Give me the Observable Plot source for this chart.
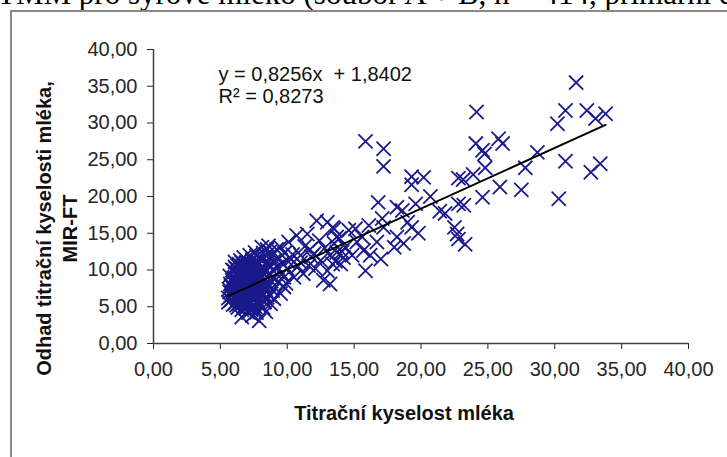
<!DOCTYPE html>
<html><head><meta charset="utf-8">
<script src="https://cdn.jsdelivr.net/npm/d3@7"></script>
<script src="https://cdn.jsdelivr.net/npm/@observablehq/plot@0.6"></script>
<style>
html,body{margin:0;padding:0;background:#fff;}
body{width:727px;height:457px;overflow:hidden;position:relative;font-family:"Liberation Sans",Arial,sans-serif;}
#title{position:absolute;left:-3px;top:-24px;font-family:"Liberation Serif","Times New Roman",serif;font-size:31px;white-space:nowrap;color:#000;}
#box{position:absolute;left:10px;top:10px;width:800px;height:600px;border:2px solid #8a8a8a;box-sizing:border-box;}
#chart{position:absolute;left:0;top:0;}
</style></head><body>
<div id="title">TMM pro syrové mléko (soubor A + B, n = 414, primární data)</div>
<div id="box"></div>
<div id="chart"></div>
<script>
// axis ticks
const xTicks = [0, 5, 10, 15, 20, 25, 30, 35, 40];
const yTicks = [0, 5, 10, 15, 20, 25, 30, 35, 40];

// dense cluster
const clusterX = [5.6,5.7,5.8,5.9,5.7,6.0,5.9,5.6,5.8,6.0,
  6.0,6.1,6.1,6.1,5.9,6.2,6.3,6.3,6.2,6.4,
  6.3,6.2,6.4,6.3,6.5,6.4,6.5,6.3,6.5,6.4,
  6.2,6.5,6.4,6.6,6.6,6.7,6.6,6.8,6.7,6.9,
  6.6,6.8,6.7,6.9,6.75,6.8,7.0,7.0,6.9,7.0,
  6.6,6.9,6.7,7.0,6.8,6.9,7.1,7.2,7.1,7.3,
  7.2,7.4,7.1,7.3,7.2,7.4,7.3,7.1,7.4,7.5,
  7.5,7.4,7.5,7.2,7.4,7.3,7.5,7.1,7.2,7.6,
  7.7,7.9,7.6,7.8,7.7,7.9,7.6,7.8,7.7,7.9,
  7.6,7.8,8.0,7.7,8.0,8.0,7.9,7.6,7.8,8.1,
  8.2,8.3,8.1,8.4,8.2,8.3,8.1,8.4,8.2,8.5,
  8.3,8.4,8.5,8.5,8.2,8.5,8.6,8.75,8.7,8.9,
  8.6,8.8,8.7,8.9,8.6,9.0,8.8,9.0,8.7,9.0];
const clusterY = [6.2,7.0,7.8,8.6,9.2,9.9,6.8,5.6,5.9,7.4,
  8.2,9.0,10.4,11.1,10.0,5.2,4.9,6.0,6.6,7.2,
  7.9,8.5,9.1,9.6,10.2,10.8,11.3,6.4,5.7,8.0,
  9.3,7.5,5.4,3.6,4.6,5.5,6.2,6.8,7.3,7.9,
  8.4,9.0,9.6,10.1,11.7,10.7,5.0,4.3,6.0,8.6,
  9.9,11.0,8.0,7.1,6.4,9.4,4.2,5.3,5.9,6.5,
  7.0,7.6,8.2,8.8,9.3,9.9,10.5,11.0,3.8,4.8,
  6.1,8.5,9.0,10.0,11.4,5.6,7.3,6.6,12.0,12.4,
  4.2,3.1,5.0,5.8,6.5,7.1,7.8,8.4,9.0,9.6,
  10.3,10.9,11.5,11.9,6.2,8.0,5.2,8.8,7.4,13.1,
  4.9,5.6,6.7,7.3,7.9,8.6,9.2,9.8,10.4,11.0,
  11.6,4.3,6.3,8.2,12.3,12.8,13.3,5.4,6.5,7.2,
  7.9,8.5,9.3,10.0,10.6,11.2,11.9,9.0,12.5,6.1];

// cluster core (extra readings)
const coreX = [5.8,6.0,6.2,6.1,6.3,6.5,6.4,6.6,6.7,6.9,
  7.0,7.1,7.3,7.2,7.4,7.6,7.5,7.7,7.9,8.0,
  6.05,6.25,6.45,6.65,6.85,7.05,7.25,7.45,7.65,7.85,
  6.15,6.35,6.55,6.75,6.95,7.15,7.35,7.55,7.75,7.95,
  5.75,5.95,6.6,6.9,7.3,7.7,8.1,8.3,5.65,8.4];
const coreY = [6.5,8.9,7.7,5.5,10.6,8.8,6.9,10.5,5.9,8.2,
  9.7,7.8,9.6,6.3,10.8,6.9,5.3,8.1,10.1,9.3,
  7.1,9.5,6.1,7.6,10.4,6.7,8.5,5.1,9.4,6.8,
  10.2,8.3,9.0,5.0,7.0,10.6,7.9,9.8,11.2,8.7,
  8.1,5.3,11.0,4.8,4.6,10.6,8.3,10.1,7.4,7.7];

// spread 9 - 14
const spreadX = [9.25,9.5,9.75,9.5,9.3,9.6,9.75,9.4,9.8,9.2,
  9.6,9.9,10.0,10.1,10.0,10.5,10.7,10.4,10.8,11.0,
  11.2,11.5,11.6,11.3,11.8,12.0,12.2,12.5,12.7,12.4,
  12.8,11.0,10.3,12.1,11.7,13.0,13.0,13.4,13.4,13.7,
  13.2,13.5,13.9,13.2,13.6];
const spreadY = [10.4,6.8,7.7,13.1,8.4,9.5,9.0,11.6,12.3,12.8,
  10.9,8.2,11.3,13.8,10.2,9.0,14.7,12.1,10.5,12.0,
  9.5,14.9,10.6,13.2,11.8,12.2,16.7,11.3,8.6,14.0,
  13.0,11.0,11.5,10.2,12.8,9.9,16.5,15.8,10.8,12.4,
  8.1,13.6,14.3,12.0,11.2];

// higher values
const outerX = [31.6,24.15,30.8,32.4,33.8,33.05,30.2,15.85,17.2,17.2,
  24.1,25.8,26.1,24.6,24.75,28.7,24.8,27.8,30.8,32.7,
  33.4,25.9,27.5,30.3,22.8,23.15,23.9,24.6,22.8,23.2,
  22.5,22.7,22.8,23.3,21.4,21.8,20.7,19.3,20.2,19.3,
  19.6,16.8,18.2,18.6,17.1,19.0,19.3,19.8,18.2,18.7,
  18.0,17.2,16.1,16.7,15.6,15.1,15.7,17.0,16.2,15.85,
  14.2,14.35,13.7,13.5,14.6,14.0,14.1,15.2,14.85];
const outerY = [35.5,31.5,31.7,31.7,31.25,30.6,29.9,27.5,26.5,24.1,
  27.2,27.85,27.2,26.3,25.8,26.0,23.9,23.9,24.8,23.3,
  24.45,21.3,20.9,19.7,22.5,22.3,23.0,19.9,19.0,18.8,
  15.8,14.9,14.2,13.5,18.0,17.7,20.0,22.7,22.6,21.6,
  19.0,19.2,18.55,18.1,17.0,16.5,15.8,15.0,14.5,13.6,
  13.1,15.8,16.05,13.8,14.5,15.6,12.65,11.5,12.0,9.9,
  11.7,13.1,14.5,15.6,15.4,10.8,12.5,13.8,12.0];

// trendline end points
const trendX = [5.5, 33.8];
const trendY = [6.38, 29.74];

const equationText = "y = 0,8256x  + 1,8402\nR² = 0,8273";
const xAxisLabel = "Titrační kyselost mléka";
const yAxisLabel = "Odhad titrační kyselosti mléka,\nMIR-FT";

const allX = clusterX.concat(coreX, spreadX, outerX);
const allY = clusterY.concat(coreY, spreadY, outerY);
const points = allX.map((x, i) => ({x, y: allY[i]}));
const trend = trendX.map((x, i) => ({x, y: trendY[i]}));
const fmt = d => d.toFixed(2).replace(".", ",");

const chart = Plot.plot({
  width: 727, height: 457,
  marginLeft: 153, marginRight: 39, marginTop: 49, marginBottom: 114,
  style: {fontFamily: '"Liberation Sans", Arial, sans-serif', fontSize: "20px", color: "#262626", background: "transparent", overflow: "visible"},
  x: {domain: [0, 40], ticks: xTicks, tickFormat: fmt, label: null, tickSize: 6, tickPadding: 12},
  y: {domain: [0, 40], ticks: yTicks, tickFormat: fmt, label: null, tickSize: 6, tickPadding: 10},
  marks: [
    Plot.ruleX([0], {stroke: "#404040", strokeWidth: 1.5}),
    Plot.ruleY([0], {stroke: "#404040", strokeWidth: 1.5}),
    Plot.dot(points, {x: "x", y: "y", symbol: "times", r: 6.5, stroke: "#1a1a8c", strokeWidth: 1.8}),
    Plot.line(trend, {x: "x", y: "y", stroke: "#000", strokeWidth: 2}),
    Plot.text([equationText], {text: d => d, frameAnchor: "top-left", dx: 65, dy: 16, textAnchor: "start", lineAnchor: "top", fontSize: 20, lineHeight: 1.1, fill: "#111"}),
    Plot.text([yAxisLabel], {text: d => d, frameAnchor: "left", dx: -98, dy: 32, rotate: -90, textAnchor: "middle", fontSize: 20, fontWeight: "bold", lineHeight: 1.3, fill: "#111"}),
    Plot.text([xAxisLabel], {text: d => d, frameAnchor: "bottom", dx: -17, dy: 76, textAnchor: "middle", fontSize: 20, fontWeight: "bold", fill: "#111"})
  ]
});
document.getElementById("chart").appendChild(chart);
</script>
</body></html>
